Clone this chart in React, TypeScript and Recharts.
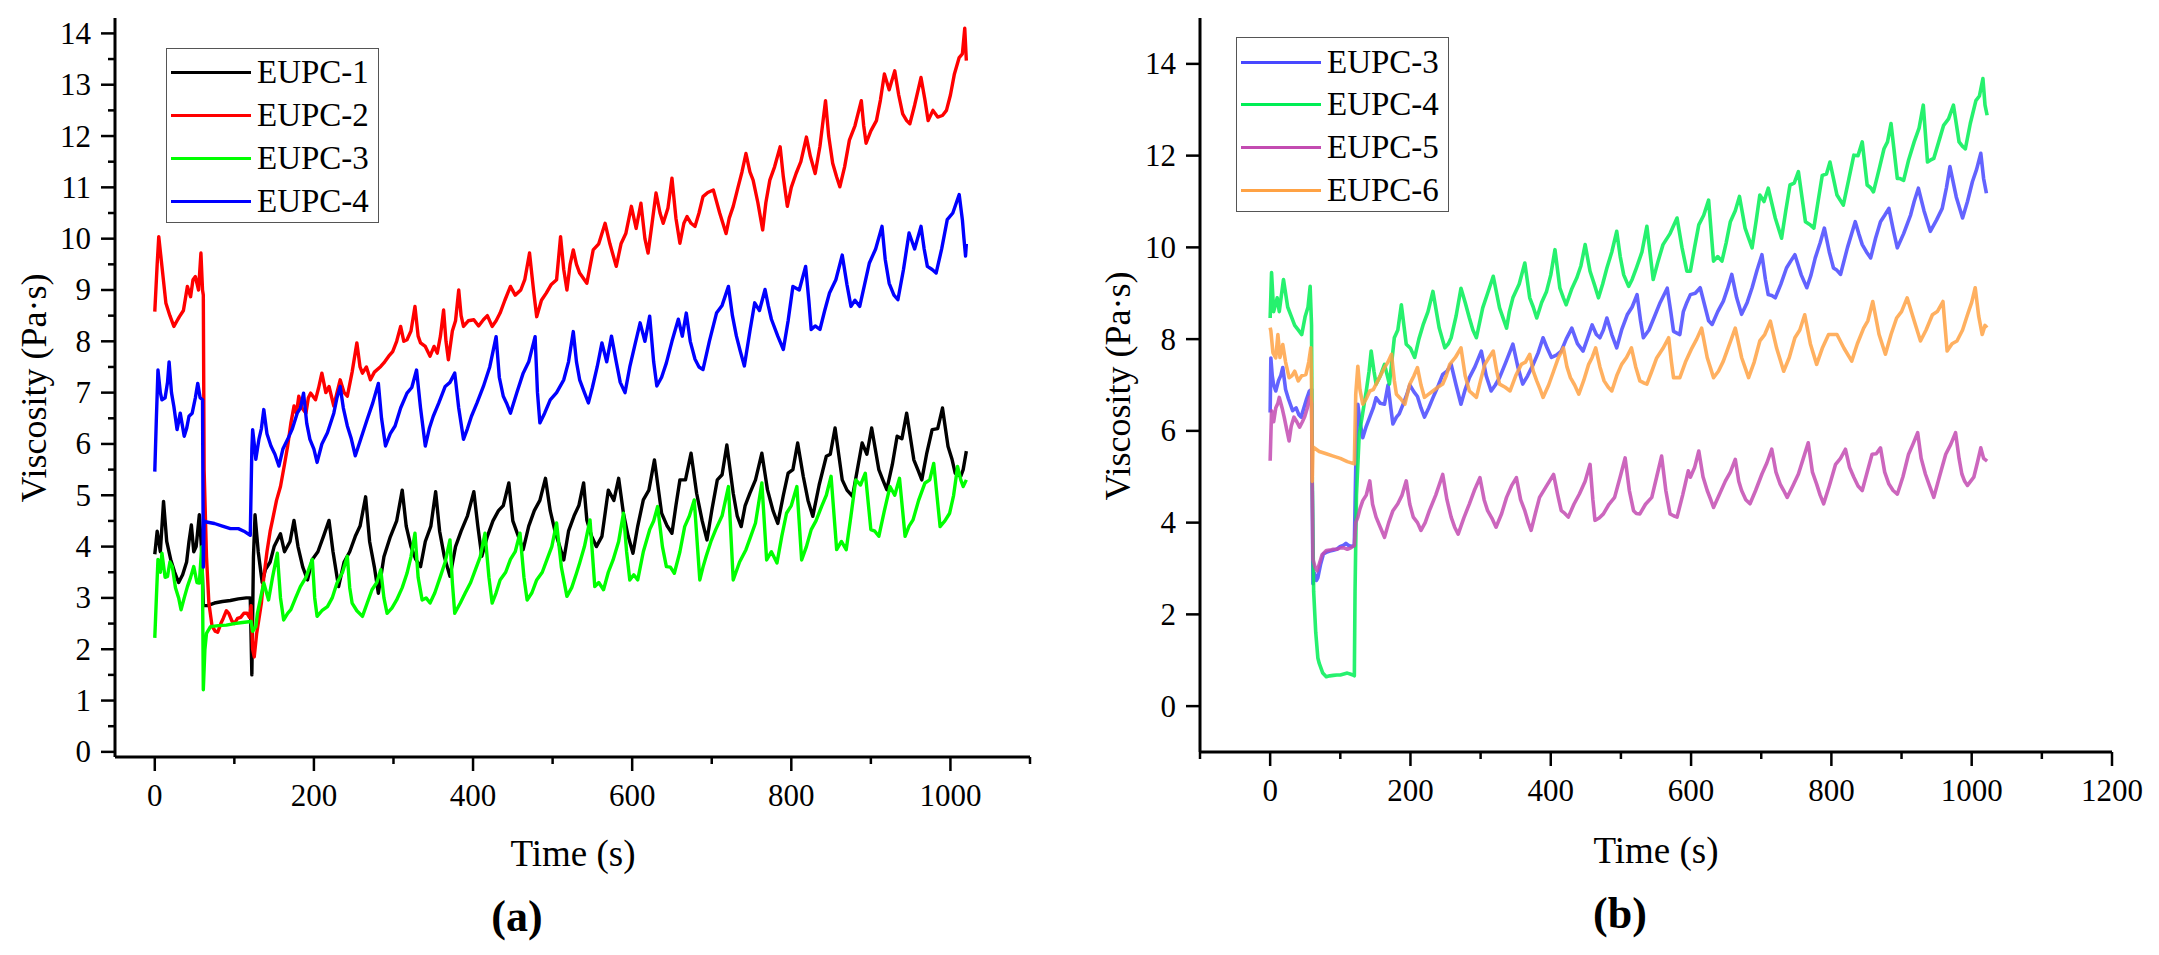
import React from 'react';
import { LineChart, Line, XAxis, YAxis } from 'recharts';

const FONT = '"Liberation Serif", "Times New Roman", serif';

type Pt = [number, number];

// ---- panel (a): [time s, viscosity Pa·s] ----
const eupc1A: Pt[] = [[0,3.85],[3,4.3],[7,3.9],[11,4.88],[15,4.1],[20,3.75],[25,3.5],[30,3.3],[35,3.45],[40,3.7],[43,4.1],[46,4.42],[49,3.9],[52,4.0],[56,4.62],[59,3.9],[61,2.85],[66,2.85],[75,2.9],[85,2.93],[95,2.95],[105,2.98],[115,3.0],[120,3.0],[122,1.5],[124,3.8],[126,4.62],[130,3.9],[135,3.3],[139,3.55],[145,3.7],[150,4.0],[158,4.25],[163,3.9],[170,4.1],[175,4.51],[180,4.0],[186,3.6],[192,3.35],[198,3.75],[205,3.9],[212,4.2],[219,4.51],[224,3.9],[231,3.22],[238,3.7],[245,3.9],[252,4.2],[258,4.4],[265,4.97],[270,4.1],[276,3.6],[281,3.09],[288,3.8],[296,4.19],[304,4.5],[311,5.1],[316,4.4],[322,4.0],[328,3.75],[334,3.61],[340,4.1],[347,4.4],[353,5.07],[358,4.3],[364,3.8],[371,3.42],[378,4.0],[385,4.3],[393,4.6],[401,5.07],[406,4.4],[411,3.81],[418,4.2],[425,4.5],[432,4.7],[438,4.8],[445,5.24],[450,4.5],[457,4.2],[463,3.94],[470,4.4],[477,4.7],[484,4.9],[491,5.33],[497,4.7],[503,4.3],[509,4.0],[514,3.74],[520,4.3],[527,4.6],[533,4.8],[539,5.24],[543,4.52],[549,4.2],[555,4.0],[562,4.2],[570,5.1],[577,4.9],[583,5.33],[589,4.65],[595,4.2],[601,3.87],[607,4.4],[614,4.91],[621,5.1],[628,5.69],[637,4.65],[644,4.4],[650,4.26],[655,4.8],[660,5.3],[667,5.3],[674,5.82],[681,5.04],[688,4.5],[694,4.13],[700,4.7],[707,5.3],[713,5.4],[719,5.98],[727,5.04],[732,4.6],[737,4.39],[742,4.8],[748,5.04],[755,5.3],[763,5.82],[770,5.11],[777,4.7],[783,4.45],[790,5.0],[796,5.43],[802,5.5],[808,6.02],[815,5.37],[821,4.9],[827,4.59],[835,5.2],[844,5.76],[849,5.8],[855,6.31],[864,5.3],[870,5.1],[877,4.98],[883,5.5],[889,6.02],[895,5.8],[901,6.31],[910,5.5],[915,5.3],[920,5.11],[927,5.6],[933,6.15],[939,6.1],[945,6.6],[954,5.69],[959,5.5],[964,5.3],[970,5.8],[977,6.28],[984,6.3],[990,6.7],[997,5.95],[1002,5.7],[1006,5.43],[1013,5.37],[1016,5.5],[1020,5.86]];

const eupc2A: Pt[] = [[0,8.58],[3,9.5],[5,10.04],[9,9.46],[14,8.74],[19,8.5],[24,8.29],[28,8.4],[31,8.48],[36,8.6],[41,9.07],[45,8.87],[48,9.2],[51,9.26],[55,9.0],[58,9.72],[60,9.0],[61,8.9],[62,5.5],[65,3.8],[68,2.9],[72,2.45],[76,2.35],[79,2.33],[83,2.5],[86,2.6],[90,2.75],[93,2.7],[97,2.55],[100,2.5],[104,2.6],[108,2.62],[112,2.7],[116,2.7],[119,2.62],[121,2.85],[123,2.0],[125,1.85],[128,2.3],[131,2.6],[134,2.9],[137,3.4],[141,3.9],[145,4.3],[148,4.52],[153,4.9],[158,5.17],[163,5.6],[167,5.96],[171,6.4],[175,6.74],[178,6.6],[181,6.93],[185,6.7],[190,6.6],[193,6.9],[196,6.99],[202,6.86],[206,7.1],[210,7.38],[215,7.0],[219,7.12],[225,6.74],[229,7.0],[233,7.25],[238,7.0],[242,6.93],[248,7.4],[254,7.97],[258,7.5],[261,7.38],[266,7.5],[271,7.25],[276,7.4],[284,7.51],[289,7.6],[294,7.71],[299,7.8],[304,8.0],[309,8.29],[313,8.0],[317,8.03],[322,8.2],[327,8.68],[331,8.1],[334,7.97],[340,7.9],[346,7.71],[351,7.9],[355,7.77],[359,8.1],[363,8.61],[366,8.0],[369,7.64],[374,8.2],[378,8.4],[382,9.0],[385,8.5],[388,8.29],[394,8.4],[401,8.42],[407,8.3],[413,8.42],[418,8.5],[424,8.29],[429,8.4],[434,8.55],[440,8.8],[447,9.07],[453,8.9],[460,9.0],[465,9.2],[471,9.72],[476,9.0],[480,8.48],[486,8.8],[492,8.94],[498,9.1],[505,9.2],[510,10.04],[514,9.4],[518,9.0],[522,9.5],[526,9.78],[530,9.5],[534,9.33],[543,9.13],[551,9.78],[558,9.9],[566,10.3],[572,9.9],[580,9.46],[586,9.9],[592,10.1],[599,10.63],[605,10.2],[611,10.69],[616,10.0],[620,9.72],[625,10.3],[630,10.89],[635,10.5],[639,10.3],[645,10.6],[650,11.18],[655,10.4],[660,9.91],[665,10.3],[669,10.43],[674,10.3],[679,10.24],[684,10.5],[689,10.82],[695,10.9],[702,10.95],[710,10.5],[718,10.1],[722,10.4],[727,10.63],[733,11.0],[738,11.3],[743,11.66],[748,11.3],[752,11.14],[758,10.7],[764,10.17],[768,10.7],[773,11.14],[779,11.4],[786,11.79],[790,11.2],[795,10.63],[800,11.0],[806,11.27],[812,11.5],[819,11.98],[824,11.6],[830,11.27],[836,11.8],[843,12.69],[847,12.0],[852,11.47],[857,11.2],[861,11.01],[867,11.4],[873,11.92],[880,12.2],[888,12.69],[891,12.2],[894,11.86],[900,12.1],[907,12.3],[912,12.7],[917,13.21],[923,12.9],[930,13.27],[935,12.8],[940,12.43],[945,12.3],[949,12.24],[955,12.6],[963,13.14],[968,12.7],[972,12.3],[978,12.5],[984,12.37],[990,12.4],[995,12.5],[1000,12.8],[1005,13.21],[1011,13.53],[1015,13.6],[1018,14.1],[1020,13.47]];

const eupc3A: Pt[] = [[0,2.22],[2,3.0],[4,3.75],[7,3.5],[9,3.87],[13,3.4],[16,3.42],[19,3.7],[22,3.61],[26,3.2],[30,3.0],[33,2.77],[37,3.0],[41,3.22],[45,3.4],[49,3.61],[53,3.3],[56,3.29],[59,4.0],[60,3.3],[61,1.21],[63,2.0],[65,2.31],[70,2.44],[80,2.46],[90,2.47],[100,2.5],[110,2.52],[121,2.54],[123,2.35],[127,2.44],[129,2.7],[133,3.0],[137,3.29],[143,2.96],[148,3.4],[154,3.87],[158,3.0],[162,2.57],[167,2.7],[171,2.77],[177,3.0],[183,3.22],[190,3.4],[198,3.75],[201,3.0],[204,2.64],[210,2.75],[217,2.83],[223,3.0],[229,3.29],[236,3.5],[242,3.81],[245,3.2],[248,2.9],[254,2.75],[261,2.64],[267,2.9],[273,3.16],[279,3.3],[284,3.55],[288,3.0],[292,2.7],[298,2.8],[304,2.96],[311,3.2],[317,3.48],[322,3.8],[327,4.26],[331,3.4],[336,2.96],[341,3.0],[346,2.9],[352,3.1],[359,3.42],[365,3.7],[371,4.13],[374,3.3],[377,2.7],[384,2.9],[390,3.09],[397,3.3],[403,3.55],[409,3.8],[415,4.26],[420,3.4],[424,2.9],[429,3.1],[434,3.35],[441,3.5],[447,3.75],[453,3.9],[459,4.26],[464,3.4],[468,2.96],[474,3.1],[480,3.35],[487,3.5],[493,3.75],[499,4.0],[505,4.46],[511,3.6],[518,3.03],[524,3.2],[530,3.48],[534,3.68],[540,4.0],[547,4.52],[553,3.22],[558,3.3],[564,3.16],[570,3.5],[576,3.74],[583,4.1],[589,4.65],[593,3.9],[597,3.35],[602,3.45],[607,3.35],[614,3.9],[622,4.33],[627,4.5],[632,4.78],[638,4.0],[643,3.61],[648,3.6],[653,3.48],[660,3.9],[666,4.39],[672,4.6],[678,4.91],[685,3.35],[689,3.6],[693,3.81],[699,4.1],[705,4.33],[713,4.6],[721,5.17],[727,3.35],[735,3.7],[743,3.94],[749,4.2],[755,4.46],[763,5.24],[769,3.74],[775,3.9],[782,3.68],[788,4.2],[794,4.65],[800,4.8],[807,5.17],[813,3.74],[819,4.0],[825,4.33],[831,4.5],[838,4.78],[844,5.0],[850,5.37],[857,3.94],[863,4.1],[869,3.94],[875,4.6],[881,5.3],[887,5.2],[893,5.43],[900,4.33],[905,4.3],[910,4.2],[917,4.7],[924,5.17],[930,5.0],[936,5.33],[943,4.2],[948,4.4],[953,4.52],[960,4.9],[968,5.24],[974,5.3],[979,5.62],[987,4.39],[993,4.5],[999,4.65],[1004,5.0],[1009,5.56],[1013,5.3],[1016,5.17],[1020,5.3]];

const eupc4A: Pt[] = [[0,5.46],[2,6.5],[4,7.44],[7,7.0],[9,6.86],[13,6.9],[16,7.2],[18,7.6],[21,7.0],[24,6.73],[28,6.28],[32,6.6],[37,6.15],[40,6.3],[43,6.54],[47,6.6],[51,6.9],[54,7.18],[57,6.9],[60,6.86],[61,3.6],[62,4.5],[65,4.48],[75,4.45],[85,4.4],[95,4.35],[105,4.35],[112,4.3],[120,4.22],[122,5.9],[123,6.28],[125,6.0],[127,5.7],[131,6.1],[134,6.3],[137,6.67],[141,6.2],[146,5.96],[151,5.8],[156,5.57],[161,5.9],[167,6.09],[173,6.3],[179,6.6],[183,6.7],[187,6.99],[191,6.4],[195,6.09],[200,5.9],[204,5.64],[210,6.0],[217,6.22],[225,6.6],[229,6.9],[233,7.12],[237,6.7],[242,6.35],[247,6.1],[252,5.77],[259,6.1],[267,6.48],[274,6.8],[281,7.18],[285,6.5],[290,5.96],[296,6.2],[302,6.35],[309,6.7],[317,6.99],[323,7.1],[329,7.44],[334,6.7],[340,5.96],[345,6.3],[350,6.54],[357,6.8],[365,7.12],[371,7.2],[377,7.38],[382,6.7],[388,6.09],[393,6.3],[398,6.54],[405,6.8],[413,7.12],[421,7.5],[429,8.09],[433,7.3],[438,6.93],[442,6.8],[447,6.6],[455,7.0],[463,7.38],[470,7.6],[478,8.09],[481,7.0],[484,6.41],[490,6.6],[497,6.86],[505,7.0],[514,7.25],[520,7.6],[526,8.19],[530,7.6],[534,7.25],[540,7.0],[545,6.8],[550,7.1],[556,7.5],[562,7.97],[568,7.6],[574,8.1],[580,7.6],[585,7.2],[591,7.0],[597,7.5],[603,7.9],[610,8.36],[616,8.0],[622,8.49],[627,7.6],[631,7.13],[637,7.3],[643,7.58],[650,8.0],[658,8.43],[663,8.1],[668,8.55],[673,8.0],[679,7.65],[684,7.5],[689,7.45],[697,8.0],[706,8.55],[713,8.7],[721,9.07],[726,8.5],[731,8.1],[736,7.8],[741,7.52],[748,8.2],[754,8.75],[760,8.6],[767,9.01],[771,8.7],[775,8.43],[783,8.1],[790,7.84],[796,8.4],[802,9.07],[810,9.0],[818,9.46],[822,8.8],[825,8.23],[830,8.3],[836,8.23],[842,8.6],[848,8.94],[856,9.2],[864,9.68],[870,9.1],[875,8.68],[880,8.8],[886,8.68],[892,9.1],[898,9.52],[906,9.8],[914,10.24],[918,9.6],[923,9.13],[929,8.9],[934,8.81],[941,9.4],[948,10.11],[955,9.8],[963,10.24],[967,9.8],[971,9.46],[977,9.4],[982,9.33],[989,9.8],[996,10.37],[1003,10.5],[1011,10.86],[1015,10.37],[1017,10.0],[1019,9.66],[1020,9.9]];

// ---- panel (b) ----
const eupc3B: Pt[] = [[0,6.4],[1,7.59],[3,7.2],[5,7.0],[8,6.87],[12,7.1],[15,7.2],[18,7.38],[22,6.9],[26,6.7],[32,6.44],[37,6.5],[41,6.35],[44,6.3],[48,6.5],[52,6.7],[56,6.87],[59,6.9],[60,4.8],[61,2.67],[63,2.9],[66,2.74],[68,2.8],[72,3.1],[76,3.32],[80,3.35],[85,3.38],[90,3.4],[95,3.42],[100,3.48],[104,3.5],[108,3.55],[112,3.5],[116,3.48],[120,3.5],[122,5.2],[125,6.58],[128,6.2],[132,5.85],[137,6.1],[142,6.3],[147,6.5],[151,6.72],[157,6.6],[163,6.58],[168,7.0],[172,6.5],[175,6.15],[180,6.3],[184,6.37],[190,6.6],[195,6.8],[199,7.0],[205,6.85],[210,6.75],[215,6.5],[220,6.3],[226,6.5],[232,6.72],[240,7.0],[246,7.23],[252,7.3],[258,7.45],[265,7.0],[272,6.58],[278,6.9],[284,7.16],[292,7.4],[301,7.74],[308,7.2],[315,6.87],[321,7.0],[327,7.16],[336,7.5],[346,7.89],[353,7.4],[360,7.02],[367,7.2],[375,7.45],[382,7.7],[389,8.03],[395,7.8],[401,7.6],[408,7.65],[415,7.74],[422,8.0],[430,8.24],[438,7.9],[446,7.74],[452,8.0],[459,8.31],[465,8.1],[470,8.03],[475,8.2],[480,8.46],[487,8.1],[494,7.81],[501,8.2],[509,8.53],[516,8.7],[523,8.97],[528,8.4],[532,8.03],[540,8.2],[547,8.46],[556,8.8],[566,9.11],[571,8.6],[575,8.17],[584,8.1],[589,8.6],[594,8.8],[599,8.97],[606,9.0],[613,9.12],[620,8.7],[625,8.4],[630,8.32],[638,8.6],[646,8.83],[652,9.1],[658,9.41],[665,8.9],[672,8.54],[680,8.8],[687,9.12],[694,9.5],[701,9.84],[706,9.3],[710,8.97],[715,8.95],[720,8.9],[728,9.2],[736,9.55],[742,9.7],[748,9.84],[757,9.4],[765,9.12],[771,9.4],[777,9.77],[784,10.1],[790,10.42],[797,9.9],[803,9.55],[808,9.5],[813,9.41],[823,10.0],[834,10.56],[839,10.3],[844,10.06],[850,9.9],[856,9.77],[863,10.2],[870,10.56],[876,10.7],[882,10.85],[888,10.4],[894,9.99],[903,10.3],[913,10.71],[918,11.0],[924,11.29],[932,10.8],[941,10.35],[950,10.6],[958,10.85],[964,11.3],[969,11.76],[978,11.1],[987,10.64],[994,11.0],[1001,11.43],[1007,11.7],[1013,12.05],[1017,11.5],[1021,11.18]];

const eupc4B: Pt[] = [[0,8.46],[2,9.45],[5,8.6],[10,8.9],[13,8.6],[19,9.3],[25,8.7],[30,8.5],[35,8.3],[40,8.2],[45,8.1],[50,8.5],[54,8.7],[57,9.15],[59,8.3],[60,5.0],[62,2.5],[65,1.6],[68,1.05],[70,0.93],[75,0.72],[80,0.64],[85,0.66],[90,0.67],[95,0.68],[100,0.68],[105,0.7],[110,0.72],[114,0.7],[118,0.68],[120,0.66],[121,2.5],[123,4.6],[126,5.6],[127,5.93],[131,6.3],[137,6.87],[141,7.3],[144,7.74],[148,7.3],[151,7.02],[157,7.2],[163,7.45],[170,7.02],[177,8.03],[182,8.2],[187,8.75],[194,7.89],[200,7.8],[206,7.6],[212,8.0],[218,8.31],[225,8.6],[232,9.04],[241,8.24],[249,7.81],[254,7.9],[258,8.03],[265,8.5],[272,9.11],[278,8.8],[284,8.46],[289,8.2],[294,8.03],[303,8.68],[310,9.0],[318,9.37],[327,8.68],[337,8.24],[341,8.6],[346,8.9],[355,9.2],[363,9.66],[370,8.9],[375,8.7],[380,8.46],[387,8.8],[394,9.04],[400,9.4],[406,9.95],[413,9.11],[418,8.9],[422,8.75],[430,9.1],[437,9.33],[443,9.6],[449,10.06],[456,9.48],[462,9.2],[468,8.9],[474,9.2],[480,9.55],[487,9.9],[494,10.35],[499,9.8],[504,9.4],[511,9.15],[516,9.3],[522,9.55],[530,9.9],[537,10.46],[546,9.3],[553,9.7],[560,10.06],[570,10.3],[580,10.64],[587,10.0],[594,9.48],[599,9.48],[605,10.0],[611,10.49],[618,10.7],[625,11.03],[632,9.7],[638,9.8],[644,9.7],[650,10.1],[656,10.56],[663,10.8],[669,11.11],[677,10.42],[682,10.2],[687,9.99],[693,10.6],[698,11.14],[704,11.0],[710,11.29],[720,10.64],[729,10.2],[735,10.8],[741,11.36],[747,11.4],[753,11.65],[763,10.56],[769,10.5],[775,10.42],[781,11.0],[787,11.57],[793,11.6],[798,11.86],[808,11.14],[817,10.92],[825,11.5],[832,12.01],[838,12.0],[844,12.3],[851,11.36],[856,11.3],[860,11.21],[868,11.7],[875,12.15],[880,12.3],[885,12.7],[894,11.5],[898,11.5],[903,11.46],[910,11.9],[918,12.3],[925,12.6],[931,13.1],[937,11.86],[941,11.9],[946,11.94],[953,12.3],[960,12.66],[967,12.8],[974,13.1],[982,12.3],[987,12.2],[991,12.15],[998,12.7],[1006,13.2],[1011,13.3],[1016,13.68],[1019,13.1],[1022,12.88]];

const eupc5B: Pt[] = [[0,5.35],[2,6.44],[5,6.2],[8,6.5],[11,6.6],[13,6.73],[17,6.5],[20,6.3],[24,6.0],[27,5.78],[30,6.1],[34,6.3],[38,6.2],[42,6.08],[46,6.2],[49,6.3],[53,6.5],[56,6.73],[59,6.6],[60,4.7],[61,3.2],[64,3.03],[67,2.95],[70,3.1],[74,3.3],[80,3.39],[85,3.4],[90,3.42],[95,3.42],[100,3.45],[105,3.45],[110,3.42],[115,3.45],[120,3.5],[122,4.0],[125,4.12],[128,4.3],[132,4.48],[137,4.6],[142,4.91],[146,4.4],[151,4.12],[157,3.9],[163,3.68],[169,4.0],[175,4.26],[182,4.41],[188,4.6],[194,4.91],[199,4.4],[204,4.12],[210,4.0],[215,3.83],[221,4.0],[227,4.26],[236,4.6],[246,5.05],[252,4.5],[258,4.12],[263,3.9],[268,3.75],[276,4.1],[284,4.41],[291,4.7],[299,4.98],[305,4.5],[310,4.26],[316,4.1],[322,3.9],[330,4.2],[337,4.55],[344,4.8],[351,4.98],[357,4.5],[363,4.26],[368,4.0],[372,3.83],[378,4.2],[384,4.55],[394,4.8],[404,5.05],[410,4.6],[415,4.26],[420,4.2],[425,4.12],[433,4.4],[441,4.63],[449,4.9],[456,5.27],[460,4.5],[463,4.05],[469,4.1],[475,4.19],[483,4.4],[491,4.55],[499,5.0],[506,5.41],[512,4.7],[518,4.26],[522,4.2],[527,4.19],[535,4.4],[544,4.55],[551,5.0],[558,5.45],[564,4.7],[570,4.19],[575,4.15],[580,4.12],[588,4.6],[596,5.13],[599,4.99],[605,5.2],[611,5.56],[617,5.0],[623,4.7],[628,4.5],[632,4.33],[640,4.6],[649,4.91],[656,5.1],[663,5.38],[668,4.9],[672,4.7],[678,4.5],[684,4.41],[692,4.7],[701,5.06],[708,5.3],[715,5.6],[721,5.1],[727,4.84],[732,4.7],[737,4.55],[745,4.8],[753,5.06],[760,5.4],[767,5.74],[773,5.1],[779,4.84],[784,4.6],[789,4.41],[797,4.8],[806,5.27],[813,5.4],[820,5.6],[826,5.2],[832,4.99],[838,4.8],[844,4.7],[851,5.1],[858,5.49],[864,5.5],[870,5.63],[876,5.1],[882,4.84],[888,4.7],[894,4.62],[902,5.0],[910,5.49],[916,5.7],[923,5.96],[928,5.4],[934,5.06],[940,4.8],[946,4.55],[954,5.0],[963,5.49],[970,5.7],[977,5.96],[982,5.4],[986,5.06],[990,4.9],[994,4.81],[1003,4.99],[1008,5.3],[1013,5.63],[1017,5.4],[1022,5.34]];

const eupc6B: Pt[] = [[0,8.25],[1,8.18],[4,7.7],[8,7.59],[11,8.1],[14,7.6],[18,7.88],[22,7.5],[27,7.16],[31,7.2],[35,7.3],[40,7.09],[45,7.2],[51,7.23],[55,7.5],[58,7.81],[59,7.0],[60,4.9],[61,5.65],[70,5.55],[80,5.5],[90,5.45],[100,5.4],[110,5.33],[120,5.28],[122,6.8],[125,7.41],[128,6.9],[132,6.58],[137,6.7],[142,6.87],[147,6.9],[151,7.02],[157,7.2],[163,7.38],[168,7.5],[173,7.67],[177,7.1],[180,6.8],[186,6.7],[192,6.58],[199,7.02],[205,7.2],[210,7.38],[215,7.0],[220,6.73],[226,6.8],[232,6.87],[239,6.95],[246,7.02],[251,7.2],[256,7.45],[264,7.6],[272,7.81],[278,7.2],[284,6.87],[289,6.8],[294,6.73],[300,7.1],[306,7.45],[312,7.6],[318,7.74],[323,7.3],[327,7.02],[335,6.95],[342,6.87],[350,7.2],[358,7.45],[364,7.5],[370,7.67],[375,7.3],[380,7.09],[385,6.9],[389,6.73],[397,7.0],[404,7.3],[411,7.6],[418,7.81],[423,7.4],[428,7.16],[434,7.0],[440,6.8],[447,7.1],[454,7.45],[459,7.6],[464,7.81],[470,7.4],[476,7.09],[482,6.95],[487,6.87],[494,7.2],[501,7.45],[508,7.6],[515,7.81],[521,7.4],[527,7.09],[532,7.05],[537,7.02],[544,7.3],[551,7.59],[560,7.8],[568,8.03],[572,7.5],[575,7.16],[584,7.16],[592,7.5],[601,7.8],[608,8.0],[615,8.24],[623,7.6],[632,7.16],[639,7.3],[646,7.52],[655,7.9],[663,8.24],[672,7.6],[682,7.16],[690,7.5],[698,7.96],[705,8.1],[713,8.39],[722,7.8],[732,7.3],[740,7.6],[748,8.03],[755,8.2],[762,8.53],[770,7.9],[779,7.45],[787,7.8],[796,8.1],[802,8.1],[808,8.1],[818,7.8],[829,7.52],[837,7.9],[846,8.24],[852,8.4],[859,8.82],[868,8.1],[877,7.67],[885,8.1],[893,8.46],[900,8.6],[908,8.9],[918,8.4],[927,7.96],[935,8.2],[944,8.53],[951,8.6],[959,8.82],[965,7.74],[972,7.9],[979,7.96],[987,8.2],[994,8.53],[1000,8.8],[1005,9.12],[1010,8.5],[1015,8.1],[1019,8.3],[1022,8.25]];

// ---- axes ----
const xTicksA = [0, 100, 200, 300, 400, 500, 600, 700, 800, 900, 1000, 1100];
const yTicksA = [0, 0.5, 1, 1.5, 2, 2.5, 3, 3.5, 4, 4.5, 5, 5.5, 6, 6.5, 7, 7.5, 8, 8.5, 9, 9.5, 10, 10.5, 11, 11.5, 12, 12.5, 13, 13.5, 14];
const xTicksB = [-100, 0, 100, 200, 300, 400, 500, 600, 700, 800, 900, 1000, 1100, 1200];
const yTicksB = [0, 2, 4, 6, 8, 10, 12, 14];

const seriesA = [
  { name: 'EUPC-1', color: '#000000', pts: eupc1A },
  { name: 'EUPC-2', color: '#ff0000', pts: eupc2A },
  { name: 'EUPC-3', color: '#00ff00', pts: eupc3A },
  { name: 'EUPC-4', color: '#0000ff', pts: eupc4A },
];

const seriesB = [
  { name: 'EUPC-3', color: '#4848ff', pts: eupc3B },
  { name: 'EUPC-4', color: '#00ee55', pts: eupc4B },
  { name: 'EUPC-5', color: '#c34bb1', pts: eupc5B },
  { name: 'EUPC-6', color: '#ffa244', pts: eupc6B },
];

const toRows = (pts: Pt[]) => pts.map(([t, v]) => ({ t, v }));

const isMajor = (v: number, step: number) => Math.abs(v % step) < 1e-6;

const makeXTick = (step: number) => (p: any) => {
  const v = p.payload.value;
  const major = isMajor(v, step);
  return (
    <g>
      <line x1={p.x} x2={p.x} y1={p.y} y2={p.y + (major ? 14 : 7)} stroke="#000" strokeWidth={2.5} />
      {major && (
        <text x={p.x} y={p.y + 38} textAnchor="middle" dominantBaseline="central"
          fontFamily={FONT} fontSize={31} fill="#000">{v}</text>
      )}
    </g>
  );
};

const makeYTick = (step: number) => (p: any) => {
  const v = p.payload.value;
  const major = isMajor(v, step);
  return (
    <g>
      <line x1={p.x} x2={p.x - (major ? 14 : 7)} y1={p.y} y2={p.y} stroke="#000" strokeWidth={2.5} />
      {major && (
        <text x={p.x - 24} y={p.y} textAnchor="end" dominantBaseline="central"
          fontFamily={FONT} fontSize={31} fill="#000">{v}</text>
      )}
    </g>
  );
};

const axisLine = { stroke: '#000', strokeWidth: 3 };

function LegendBox({ left, top, items, rows }: { left: number; top: number; items: { name: string; color: string }[]; rows: number[] }) {
  return (
    <div style={{ position: 'absolute', left, top, width: 213, height: 175, border: '1.5px solid #555', background: '#fff', boxSizing: 'border-box' }}>
      {items.map((s, i) => (
        <div key={s.name}>
          <div style={{ position: 'absolute', left: 4, top: rows[i] - 1.5, width: 80, height: 3, background: s.color }} />
          <div style={{ position: 'absolute', left: 90, top: rows[i], transform: 'translateY(-50%)', fontFamily: FONT, fontSize: 33, lineHeight: 1, color: '#000', whiteSpace: 'nowrap' }}>{s.name}</div>
        </div>
      ))}
    </div>
  );
}

function Title({ x, y, text, size, bold, rotate }: { x: number; y: number; text: string; size: number; bold?: boolean; rotate?: boolean }) {
  return (
    <div style={{
      position: 'absolute', left: x, top: y, fontFamily: FONT, fontSize: size, fontWeight: bold ? 700 : 400,
      lineHeight: 1, whiteSpace: 'nowrap', color: '#000',
      transform: `translate(-50%, -50%)${rotate ? ' rotate(-90deg)' : ''}`,
    }}>{text}</div>
  );
}

export default function App() {
  return (
    <div style={{ position: 'absolute', left: 0, top: 0, width: 2159, height: 955, background: '#fff', overflow: 'hidden' }}>
      <div style={{ position: 'absolute', left: 0, top: 0 }}>
        <LineChart width={1060} height={955} margin={{ top: 18, right: 30, bottom: 138, left: 0 }}>
          <XAxis dataKey="t" type="number" domain={[-50, 1100]} ticks={xTicksA} interval={0}
            tick={makeXTick(200)} tickSize={0} tickMargin={0} tickLine={false} axisLine={axisLine} height={60} allowDataOverflow />
          <XAxis xAxisId="top" orientation="top" type="number" domain={[-50, 1100]} tick={false} tickLine={false} axisLine={axisLine} height={0} allowDataOverflow />
          <YAxis type="number" domain={[-0.1, 14.3]} ticks={yTicksA} interval={0}
            tick={makeYTick(1)} tickSize={0} tickMargin={0} tickLine={false} axisLine={axisLine} width={115} allowDataOverflow />
          <YAxis yAxisId="right" orientation="right" type="number" domain={[-0.1, 14.3]} tick={false} tickLine={false} axisLine={axisLine} width={0} allowDataOverflow />
          {seriesA.map((s) => (
            <Line key={s.name} data={toRows(s.pts)} dataKey="v" name={s.name} type="linear" stroke={s.color}
              strokeWidth={3.4} strokeLinejoin="round" dot={false} activeDot={false} isAnimationActive={false} />
          ))}
        </LineChart>
      </div>

      <div style={{ position: 'absolute', left: 1100, top: 0 }}>
        <LineChart width={1059} height={955} margin={{ top: 18, right: 47, bottom: 143, left: 0 }}>
          <XAxis dataKey="t" type="number" domain={[-100, 1200]} ticks={xTicksB} interval={0}
            tick={makeXTick(200)} tickSize={0} tickMargin={0} tickLine={false} axisLine={axisLine} height={60} allowDataOverflow />
          <XAxis xAxisId="top" orientation="top" type="number" domain={[-100, 1200]} tick={false} tickLine={false} axisLine={axisLine} height={0} allowDataOverflow />
          <YAxis type="number" domain={[-1, 15]} ticks={yTicksB} interval={0}
            tick={makeYTick(2)} tickSize={0} tickMargin={0} tickLine={false} axisLine={axisLine} width={100} allowDataOverflow />
          <YAxis yAxisId="right" orientation="right" type="number" domain={[-1, 15]} tick={false} tickLine={false} axisLine={axisLine} width={0} allowDataOverflow />
          {seriesB.map((s) => (
            <Line key={s.name} data={toRows(s.pts)} dataKey="v" name={s.name} type="linear" stroke={s.color}
              strokeOpacity={0.85} strokeWidth={3.6} strokeLinejoin="round" dot={false} activeDot={false} isAnimationActive={false} />
          ))}
        </LineChart>
      </div>

      <LegendBox left={166} top={48} items={seriesA} rows={[23, 66, 109, 152]} />
      <LegendBox left={1236} top={37} items={seriesB} rows={[24, 66, 109, 152]} />

      <Title x={34} y={388} text="Viscosity (Pa·s)" size={36} rotate />
      <Title x={1118} y={386} text="Viscosity (Pa·s)" size={36} rotate />
      <Title x={573} y={853} text="Time (s)" size={37} />
      <Title x={1656} y={850} text="Time (s)" size={37} />
      <Title x={517} y={917} text="(a)" size={44} bold />
      <Title x={1620} y={914} text="(b)" size={44} bold />
    </div>
  );
}
